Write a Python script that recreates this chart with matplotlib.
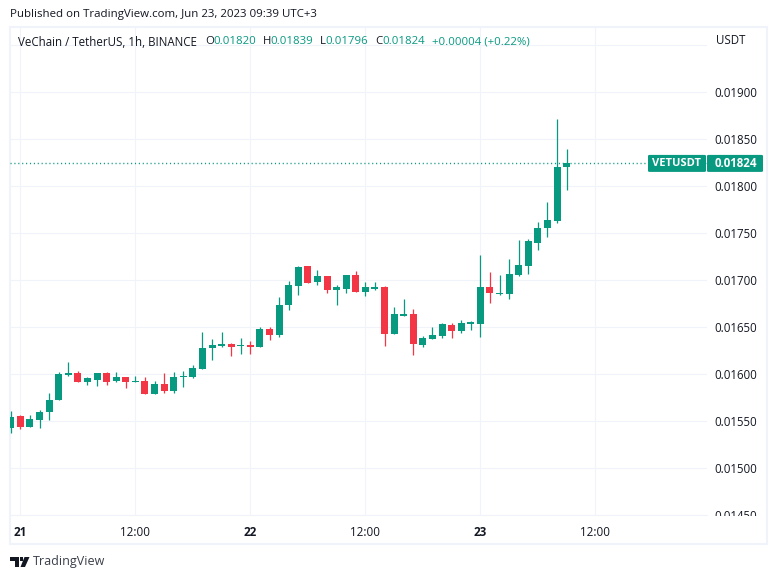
import matplotlib
matplotlib.use("Agg")
import matplotlib.pyplot as plt
from matplotlib.patches import Rectangle, FancyBboxPatch, Polygon
from matplotlib.transforms import Bbox, TransformedBbox

W, H = 777, 579
plt.rcParams['font.family'] = ['Open Sans', 'DejaVu Sans']

GREEN = '#089981'
RED = '#F23645'
GRID = '#F0F3FA'
TEXT = '#131722'

hours = list(range(-1, 58))
opens = [.01543,.01555,.01544,.01551,.01560,.01572,.01599,.01601,.01592,.01594,
         .01601,.01593,.01597,.01591,.01593,.01579,.01589,.01582,.01597,.01597,
         .01605,.01628,.01630,.01632,.01630,.01631,.01629,.01648,.01642,.01673,
         .01694,.01715,.01698,.01704,.01689,.01690,.01705,.01687,.01690,.01693,
         .01643,.01662,.01664,.01631,.01637,.01640,.01652,.01646,.01653,.01653,
         .01693,.01685,.01685,.01705,.01715,.01739,.01755,.01763,.01820]
highs = [.01561,.01556,.01556,.01562,.01580,.01602,.01613,.01603,.01597,.01601,
         .01602,.01602,.01597,.01598,.01597,.01593,.01601,.01602,.01603,.01610,
         .01645,.01637,.01645,.01633,.01638,.01635,.01650,.01650,.01682,.01699,
         .01715,.01715,.01711,.01704,.01695,.01705,.01710,.01698,.01698,.01694,
         .01671,.01680,.01669,.01640,.01650,.01654,.01654,.01657,.01656,.01727,
         .01708,.01705,.01722,.01742,.01744,.01762,.01783,.01871,.01839]
lows = [.01537,.01541,.01544,.01543,.01551,.01572,.01598,.01592,.01588,.01587,
        .01588,.01592,.01585,.01591,.01579,.01579,.01580,.01580,.01586,.01596,
        .01605,.01615,.01629,.01619,.01621,.01621,.01629,.01636,.01639,.01668,
        .01684,.01697,.01695,.01686,.01673,.01686,.01687,.01683,.01689,.01630,
        .01643,.01662,.01620,.01629,.01637,.01638,.01638,.01644,.01647,.01639,
        .01675,.01684,.01680,.01704,.01706,.01732,.01746,.01761,.01796]
closes = [.01554,.01544,.01552,.01560,.01572,.01600,.01601,.01592,.01596,.01601,
          .01592,.01597,.01591,.01593,.01579,.01589,.01582,.01597,.01598,.01606,
          .01628,.01631,.01632,.01629,.01631,.01629,.01648,.01642,.01673,.01695,
          .01714,.01697,.01704,.01689,.01692,.01705,.01687,.01693,.01693,.01643,
          .01664,.01664,.01632,.01638,.01642,.01653,.01646,.01654,.01655,.01693,
          .01686,.01686,.01706,.01716,.01741,.01755,.01764,.01820,.01824]

price_ticks = [.0145,.0150,.0155,.0160,.0165,.0170,.0175,.0180,.0185,.0190,.0195]
price_labels = ['0.01450','0.01500','0.01550','0.01600','0.01650','0.01700',
                '0.01750','0.01800','0.01850','0.01900','']
time_ticks = [0, 12, 24, 36, 48, 60]
time_labels = ['21','12:00','22','12:00','23','12:00']
time_bold = [True, False, True, False, True, False]
last_price = 0.01824

fig = plt.figure(figsize=(W/100, H/100), dpi=100, facecolor='white')

def px_rect(x0, y0, x1, y1):
    return [x0/W, 1-y1/H, (x1-x0)/W, (y1-y0)/H]

# outer panel frame
fig.add_artist(Rectangle((9.5/W, 1-543.7/H), 757.5/W, 517.2/H, transform=fig.transFigure,
                         fc='white', ec=GRID, lw=1.5, zorder=0))

ax = fig.add_axes(px_rect(10, 27, 707, 515), facecolor='none')
ax.set_xlim(-1.085, 71.65)
ax.set_ylim(.0145, .019691)
for s in ax.spines.values():
    s.set_visible(False)
ax.spines['bottom'].set_visible(True)
ax.spines['bottom'].set_color(GRID)
ax.spines['bottom'].set_linewidth(0.8)

ax.set_yticks(price_ticks)
ax.set_yticklabels(price_labels)
ax.yaxis.tick_right()
ax.tick_params(axis='y', length=0, pad=5.2, labelsize=8.3, labelcolor=TEXT)
ax.set_xticks(time_ticks)
ax.set_xticklabels(time_labels)
ax.tick_params(axis='x', length=0, pad=8, labelsize=8.4, labelcolor=TEXT)
for lbl, b in zip(ax.get_xticklabels(), time_bold):
    lbl.set_fontweight('bold' if b else 'normal')
ax.grid(True, color=GRID, lw=0.8)
ax.set_axisbelow(True)

# the lowest price label is cut by the time strip
low_label = ax.get_yticklabels()[0]
low_label.set_clip_on(True)
low_label.set_clip_path(None)
low_label.set_clip_box(TransformedBbox(Bbox([[0, 1-515.5/H], [1, 1]]), fig.transFigure))

for h, o, hi, lo, c in zip(hours, opens, highs, lows, closes):
    col = GREEN if c >= o else RED
    ax.vlines(h, lo, hi, color=col, lw=0.9, zorder=3)
    ax.bar(h, abs(c-o), bottom=min(o, c), width=0.73, color=col, lw=0, zorder=4)

ax.axhline(last_price, color=GREEN, lw=1.0, ls=(0, (0.8, 2.0)), zorder=2)

# last price labels
y_last = ax.transData.transform((0, last_price))[1]
ypx = H - y_last
fig.add_artist(FancyBboxPatch((648/W, 1-(ypx+8.5)/H), 58/W, 17/H, transform=fig.transFigure,
               boxstyle='round,pad=0,rounding_size=0.002', fc=GREEN, ec='none', zorder=5))
fig.add_artist(FancyBboxPatch((707/W, 1-(ypx+8.5)/H), 56/W, 17/H, transform=fig.transFigure,
               boxstyle='round,pad=0,rounding_size=0.002', fc=GREEN, ec='none', zorder=5))
fig.text(677/W, 1-ypx/H, 'VETUSDT', color='white', fontsize=8.0, fontweight='bold', ha='center', va='center', zorder=6)
fig.text(736/W, 1-ypx/H, '0.01824', color='white', fontsize=8.3, fontweight='bold', ha='center', va='center', zorder=6)

# texts
fig.text(10/W, 1-15/H, 'Published on TradingView.com, Jun 23, 2023 09:39 UTC+3', fontsize=8.27, color=TEXT, va='center')
fig.text(18/W, 1-42/H, 'VeChain / TetherUS, 1h, BINANCE', fontsize=8.3, color=TEXT, va='center')
parts = [(205, 'O', TEXT), (213, '0.01820', GREEN), (262.5, 'H', TEXT), (270, '0.01839', GREEN),
         (320, 'L', TEXT), (325, '0.01796', GREEN), (375, 'C', TEXT), (382, '0.01824', GREEN),
         (431.5, '+0.00004 (+0.22%)', GREEN)]
for x, s, c in parts:
    fig.text(x/W, 1-42/H, s, fontsize=8.2, color=c, va='center')
fig.text(731/W, 1-41/H, 'USDT', fontsize=8.3, color=TEXT, va='center', ha='center')

# logo
dark = '#131722'
fig.add_artist(Polygon([(10/W,1-557/H),(19/W,1-557/H),(19/W,1-567/H),(15/W,1-567/H),(15/W,1-561/H),(10/W,1-561/H)],
                       transform=fig.transFigure, fc=dark, ec='none'))
fig.add_artist(Rectangle((20/W,1-560.5/H),3.2/W,3.4/H, transform=fig.transFigure, fc=dark, ec='none'))
fig.add_artist(Polygon([(24.5/W,1-557/H),(29.5/W,1-557/H),(25/W,1-567/H),(20.5/W,1-567/H)],
                       transform=fig.transFigure, fc=dark, ec='none'))
fig.text(33/W, 1-562/H, 'TradingView', fontsize=9.0, color='#3a3e4a', va='center')

fig.savefig('out.png', dpi=100)
